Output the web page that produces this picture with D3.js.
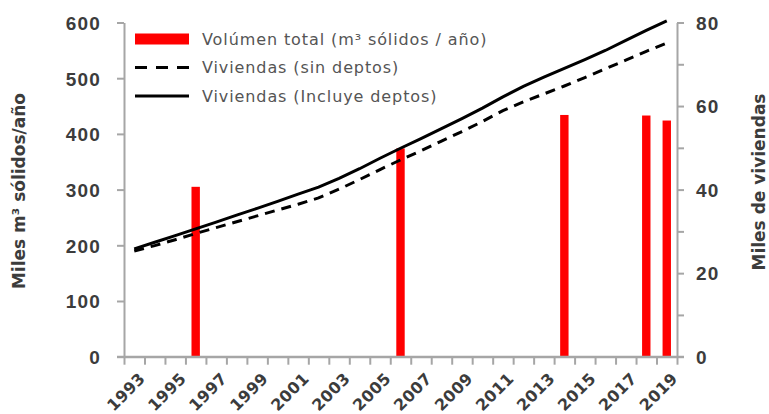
<!DOCTYPE html>
<html>
<head>
<meta charset="utf-8">
<script src="https://cdn.jsdelivr.net/npm/d3@7"></script>
<style>
  body { margin: 0; background: #fff; }
  svg { display: block; font-family: "DejaVu Sans", sans-serif; }
</style>
</head>
<body>
<div id="chart"></div>
<script>
// Chart size (matches the reference picture)
const width = 769;
const height = 414;

// Years on the category axis
const years = d3.range(1993, 2020);

// Bars: total volume (thousand m3 solid / year), only some years have data
const volumeYears = [1996, 2006, 2014, 2018, 2019];
const volumeValues = [305, 374, 434, 433, 424];

// Lines: thousand dwellings (right axis)
const viviendasSinDeptos = [25.3, 26.6, 28.0, 29.5, 30.9, 32.3, 33.7, 35.1, 36.5, 38.0,
    40.1, 42.4, 44.8, 47.1, 49.3, 51.6, 53.9, 56.3, 58.9, 61.0, 62.9, 64.8, 66.8, 68.9,
    71.0, 73.1, 75.1];
const viviendasConDeptos = [25.8, 27.4, 29.0, 30.6, 32.2, 33.9, 35.5, 37.2, 38.9, 40.6,
    42.7, 45.0, 47.5, 49.9, 52.2, 54.6, 57.0, 59.5, 62.2, 64.7, 66.9, 69.0, 71.1, 73.3,
    75.7, 78.1, 80.4];

// Tick labels
const leftTicks = [0, 100, 200, 300, 400, 500, 600];
const rightTicks = [0, 20, 40, 60, 80];
const rightMinorTicks = [10, 30, 50, 70];
const yearLabels = years.filter(y => y % 2 === 1);

const legendItems = ["Volúmen total (m³ sólidos / año)", "Viviendas (sin deptos)", "Viviendas (Incluye deptos)"];

const axisColor = "#a6a6a6";
const textColor = "#3c3c3c";

const svg = d3.select("#chart")
    .append("svg")
    .attr("width", width)
    .attr("height", height);

const plotLeft = 124, plotRight = 677, plotTop = 22.5, plotBottom = 356.7;

// Scales
const x = d3.scaleBand().domain(years).range([plotLeft, plotRight]);
const xEdge = d3.scaleLinear().domain([1993, 2020]).range([plotLeft, plotRight]);
const yLeft = d3.scaleLinear().domain([0, 600]).range([plotBottom, plotTop]);
const yRight = d3.scaleLinear().domain([0, 80]).range([plotBottom, plotTop]);

// Bars
const barW = x.bandwidth() * 0.41;
svg.append("g")
    .selectAll("rect")
    .data(volumeYears.map((yr, i) => ({ year: yr, value: volumeValues[i] })))
    .enter()
    .append("rect")
    .attr("x", d => x(d.year) + x.bandwidth() / 2 - barW / 2)
    .attr("y", d => yLeft(d.value))
    .attr("width", barW)
    .attr("height", d => plotBottom - yLeft(d.value))
    .attr("fill", "#ff0000");

// Lines
const line = d3.line()
    .x((d, i) => x(years[i]) + x.bandwidth() / 2)
    .y(d => yRight(d));

svg.append("path")
    .datum(viviendasSinDeptos)
    .attr("d", line)
    .attr("fill", "none")
    .attr("stroke", "#000")
    .attr("stroke-width", 3)
    .attr("stroke-dasharray", "10,7");

svg.append("path")
    .datum(viviendasConDeptos)
    .attr("d", line)
    .attr("fill", "none")
    .attr("stroke", "#000")
    .attr("stroke-width", 3);

// Axis styling helper
function styleAxis(g) {
    g.selectAll(".domain").attr("stroke", axisColor).attr("stroke-width", 2);
    g.selectAll(".tick line").attr("stroke", axisColor).attr("stroke-width", 2);
    g.selectAll(".tick text")
        .attr("fill", textColor)
        .style("font-weight", "bold");
}

// Left axis
const leftAxis = svg.append("g")
    .attr("transform", `translate(${plotLeft},0)`)
    .call(d3.axisLeft(yLeft).tickValues(leftTicks).tickSize(7).tickSizeOuter(0).tickPadding(16))
    .call(styleAxis);
leftAxis.selectAll(".tick text").style("font-size", "19px").style("letter-spacing", "1.2px").attr("dy", "0.36em");

// Right axis (major + minor ticks)
const rightAxis = svg.append("g")
    .attr("transform", `translate(${plotRight},0)`)
    .call(d3.axisRight(yRight).tickValues(rightTicks).tickSize(7).tickSizeOuter(0).tickPadding(12))
    .call(styleAxis);
rightAxis.selectAll(".tick text").style("font-size", "19px").style("letter-spacing", "1.2px").attr("dy", "0.36em");
svg.append("g")
    .attr("transform", `translate(${plotRight},0)`)
    .call(d3.axisRight(yRight).tickValues(rightMinorTicks).tickSize(7).tickFormat(""))
    .call(styleAxis)
    .select(".domain").remove();

// Bottom axis: tick marks at category edges
svg.append("g")
    .attr("transform", `translate(0,${plotBottom})`)
    .call(d3.axisBottom(xEdge).tickValues(d3.range(1993, 2021)).tickSize(8).tickSizeOuter(0).tickFormat(""))
    .call(styleAxis);
// extend baseline slightly left/right like the reference
svg.append("line")
    .attr("x1", plotLeft - 7).attr("x2", plotRight + 7)
    .attr("y1", plotBottom).attr("y2", plotBottom)
    .attr("stroke", axisColor).attr("stroke-width", 2);

// Year labels (rotated)
svg.append("g")
    .selectAll("text")
    .data(yearLabels)
    .enter()
    .append("text")
    .attr("transform", d => `translate(${x(d) + x.bandwidth() / 2 + 4},${plotBottom + 15}) rotate(-45)`)
    .attr("text-anchor", "end")
    .attr("dy", "0.7em")
    .attr("fill", textColor)
    .style("font-weight", "bold")
    .style("font-size", "16px")
    .style("letter-spacing", "0.3px")
    .text(d => d);

// Axis titles
svg.append("text")
    .attr("transform", `translate(25,191) rotate(-90)`)
    .attr("text-anchor", "middle")
    .attr("fill", textColor)
    .style("font-weight", "bold")
    .style("font-size", "17px")
    .text("Miles m³ sólidos/año");

svg.append("text")
    .attr("transform", `translate(765,182) rotate(-90)`)
    .attr("text-anchor", "middle")
    .attr("fill", textColor)
    .style("font-weight", "bold")
    .style("font-size", "17px")
    .text("Miles de viviendas");

// Legend
const legend = svg.append("g").attr("transform", "translate(135,39)");
const rowH = 28.5;
legend.append("rect")
    .attr("x", 0).attr("y", -5.5)
    .attr("width", 54).attr("height", 11)
    .attr("fill", "#ff0000");
legend.append("line")
    .attr("x1", 0).attr("x2", 54)
    .attr("y1", rowH).attr("y2", rowH)
    .attr("stroke", "#000").attr("stroke-width", 3)
    .attr("stroke-dasharray", "12,9");
legend.append("line")
    .attr("x1", 0).attr("x2", 54)
    .attr("y1", rowH * 2).attr("y2", rowH * 2)
    .attr("stroke", "#000").attr("stroke-width", 3);
legend.selectAll("text.item")
    .data(legendItems)
    .enter()
    .append("text")
    .attr("class", "item")
    .attr("x", 67)
    .attr("y", (d, i) => i * rowH)
    .attr("dy", "0.35em")
    .attr("fill", "#555")
    .style("font-size", "16px")
    .style("letter-spacing", "0.9px")
    .text(d => d);
</script>
</body>
</html>
